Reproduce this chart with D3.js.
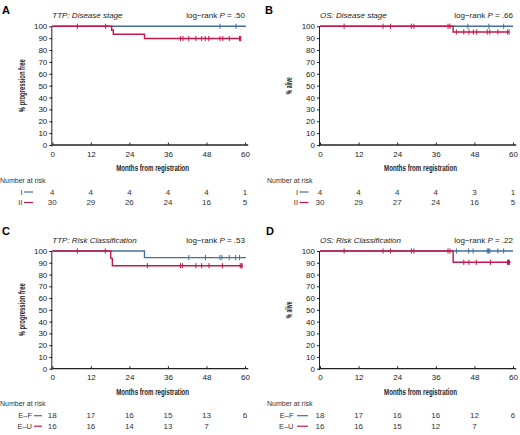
<!DOCTYPE html>
<html><head><meta charset="utf-8">
<script src="https://cdn.jsdelivr.net/npm/d3@7"></script>
<style>
body{margin:0;background:#fff;}
text{font-family:"Liberation Sans",Arial,sans-serif;}
.cond{font-family:"Liberation Sans Narrow","Arial Narrow","Liberation Sans",sans-serif;font-weight:bold;}
</style></head>
<body><svg id="c" width="520" height="435"></svg>
<script>
// ---------------- data ----------------
const xTicks = [0, 12, 24, 36, 48, 60];
const yTicks = [0, 10, 20, 30, 40, 50, 60, 70, 80, 90, 100];

// Panel A: TTP by disease stage
const A_I_steps = [[0,100],[60.3,100]];
const A_I_cens = [52.2, 57.2];
const A_II_steps = [[0,100],[18.5,96.7],[19.0,93.3],[28.7,89.7],[58.7,89.7]];
const A_II_cens = [7.8,16.6,39.9,40.7,42.5,44.7,46.5,47.6,48.7,52.2,53.1,55.1,58.3,58.5,58.7];
const A_I_risk = [4,4,4,4,4,1];
const A_II_risk = [30,29,26,24,16,5];

// Panel B: OS by disease stage
const B_I_steps = [[0,100],[60,100]];
const B_I_cens = [46.0,52.5,57.1];
const B_II_steps = [[0,100],[41.4,95.2],[58.8,95.2]];
const B_II_cens = [7.5,19.6,21.9,28.4,29.2,39.8,40.4,42.4,44.7,46.3,47.7,48.7,52.0,52.8,55.3,58.3,58.8];
const B_I_risk = [4,4,4,4,3,1];
const B_II_risk = [30,29,27,24,16,5];

// Panel C: TTP by risk classification
const C_EF_steps = [[0,100],[28.7,94.4],[60.3,94.4]];
const C_EF_cens = [42.5,47.7,52.2,52.8,55.1,57.1,58.3];
const C_EU_steps = [[0,100],[18.2,93.75],[18.7,87.5],[59.3,87.5]];
const C_EU_cens = [7.8,16.5,29.6,39.9,40.5,44.7,46.5,48.8,53.0,58.5,58.8,59.1];
const C_EF_risk = [18,17,16,15,13,6];
const C_EU_risk = [16,16,14,13,7,null];

// Panel D: OS by risk classification
const D_EF_steps = [[0,100],[60,100]];
const D_EF_cens = [42.4,46.2,47.6,52.0,52.4,52.8,55.3,57.1];
const D_EU_steps = [[0,100],[41.4,90.4],[59.2,90.4]];
const D_EU_cens = [7.5,19.6,21.9,28.4,29.2,39.8,40.4,44.7,46.3,48.6,53.0,58.3,58.6,58.9];
const D_EF_risk = [18,17,16,16,12,6];
const D_EU_risk = [16,16,15,12,7,null];

const groupNames1 = ["I", "II"];
const groupNames2 = ["E\u2013F", "E\u2013U"];
const blue = "#41709f", red = "#c2184b";

// ---------------- layout ----------------
const panels = [
  {letter:"A", lx:2, ly:14, x0:52.3, x60:245, yTop:26.3, yBot:145, title:"TTP: Disease stage", p:".50",
   ylab:"% progression free", ylen:53, ylx:25, groups:groupNames1,
   curves:[[A_I_steps,A_I_cens,blue],[A_II_steps,A_II_cens,red]], risk:[A_I_risk,A_II_risk],
   narX:0, legTextX:22.5, legLine:[24,33]},
  {letter:"B", lx:265, ly:14, x0:320, x60:513, yTop:26.3, yBot:145, title:"OS: Disease stage", p:".66",
   ylab:"% alive", ylen:17, ylx:292, groups:groupNames1,
   curves:[[B_I_steps,B_I_cens,blue],[B_II_steps,B_II_cens,red]], risk:[B_I_risk,B_II_risk],
   narX:267, legTextX:298, legLine:[299.5,308.5]},
  {letter:"C", lx:2, ly:235, x0:52.3, x60:245, yTop:251, yBot:368.7, title:"TTP: Risk Classification", p:".53",
   ylab:"% progression free", ylen:53, ylx:25, groups:groupNames2,
   curves:[[C_EF_steps,C_EF_cens,blue],[C_EU_steps,C_EU_cens,red]], risk:[C_EF_risk,C_EU_risk],
   narX:0, legTextX:32, legLine:[34,42]},
  {letter:"D", lx:266, ly:235, x0:320, x60:513, yTop:251, yBot:368.7, title:"OS: Risk Classification", p:".22",
   ylab:"% alive", ylen:17, ylx:292, groups:groupNames2,
   curves:[[D_EF_steps,D_EF_cens,blue],[D_EU_steps,D_EU_cens,red]], risk:[D_EF_risk,D_EU_risk],
   narX:267, legTextX:293.5, legLine:[297,308]}
];

const svg = d3.select("#c");

function survAt(steps, t){
  let v = steps[0][1];
  for (const s of steps){ if (s[0] <= t) v = s[1]; }
  return v;
}

panels.forEach(P => {
  const g = svg.append("g");
  const span = P.x60 - P.x0;
  const x = d3.scaleLinear().domain([0, 61]).range([P.x0, P.x0 + span * 61 / 60]);
  const y = d3.scaleLinear().domain([0, 100]).range([P.yBot, P.yTop]);

  g.append("text").attr("x", P.lx).attr("y", P.ly).text(P.letter)
    .style("font-size", "11px").style("font-weight", "bold");

  g.append("text").attr("x", P.x0).attr("y", P.yTop - 8).text(P.title)
    .style("font-size", "8px").style("font-style", "italic").attr("fill", "#222");
  const pt = g.append("text").attr("x", x(60)).attr("y", P.yTop - 8).attr("text-anchor", "end")
    .style("font-size", "8px").attr("fill", "#222");
  pt.append("tspan").text("log\u2212rank ");
  pt.append("tspan").text("P").style("font-style", "italic");
  pt.append("tspan").text(" = " + P.p);

  // y axis
  const ya = g.append("g").attr("transform", `translate(${P.x0},0)`)
    .call(d3.axisLeft(y).tickValues(yTicks).tickSize(3).tickPadding(2));
  ya.selectAll("text").style("font-size", "8px").attr("fill", "#222");
  ya.selectAll("line,path").attr("stroke", "#222");
  ya.select(".domain").attr("d", `M-0.5,${y(0)+1.5}V${y(100)}`).attr("stroke-width", 1);

  // x axis
  const xa = g.append("g").attr("transform", `translate(0,${P.yBot})`)
    .call(d3.axisBottom(x).tickValues(xTicks).tickSize(-2.5).tickPadding(6));
  xa.selectAll("text").style("font-size", "8px").attr("fill", "#222");
  xa.selectAll("line,path").attr("stroke", "#222");
  xa.select(".domain").attr("d", `M${P.x0},0H${x(61)}`).attr("stroke-width", 1.3);

  g.append("text").attr("class", "cond").attr("x", (P.x0 + P.x60) / 2 + 4).attr("y", P.yBot + 26)
    .attr("text-anchor", "middle").style("font-size", "9px").attr("fill", "#222")
    .attr("textLength", 73).attr("lengthAdjust", "spacingAndGlyphs")
    .text("Months from registration");

  g.append("text").attr("class", "cond")
    .attr("transform", `translate(${P.ylx},${(P.yTop + P.yBot) / 2}) rotate(-90)`)
    .attr("text-anchor", "middle").style("font-size", "9px").attr("fill", "#222")
    .attr("textLength", P.ylen).attr("lengthAdjust", "spacingAndGlyphs")
    .text(P.ylab);

  // curves
  const line = d3.line().x(d => x(d[0])).y(d => y(d[1])).curve(d3.curveStepAfter);
  P.curves.forEach(([steps, cens, col]) => {
    g.append("path").attr("d", line(steps)).attr("fill", "none")
      .attr("stroke", col).attr("stroke-width", 1.4);
    g.selectAll(null).data(cens).enter().append("line")
      .attr("x1", d => x(d)).attr("x2", d => x(d))
      .attr("y1", d => y(survAt(steps, d)) - 2.6).attr("y2", d => y(survAt(steps, d)) + 2.6)
      .attr("stroke", col).attr("stroke-width", 1);
  });

  // number at risk
  g.append("text").attr("x", P.narX).attr("y", P.yBot + 37.5).text("Number at risk")
    .style("font-size", "7px").attr("fill", "#333");
  const rowY = [P.yBot + 49.5, P.yBot + 60];
  const cols = [blue, red];
  P.risk.forEach((arr, i) => {
    g.append("text").attr("x", P.legTextX).attr("y", rowY[i]).attr("text-anchor", "end")
      .text(P.groups[i]).style("font-size", "7.5px").attr("fill", "#333");
    g.append("line").attr("x1", P.legLine[0]).attr("x2", P.legLine[1])
      .attr("y1", rowY[i] - 2.5).attr("y2", rowY[i] - 2.5)
      .attr("stroke", cols[i]).attr("stroke-width", 1.2);
    g.selectAll(null).data(arr.map((v, k) => [xTicks[k], v]).filter(d => d[1] !== null))
      .enter().append("text")
      .attr("x", d => x(d[0])).attr("y", rowY[i]).attr("text-anchor", "middle")
      .text(d => d[1]).style("font-size", "8px").attr("fill", "#333");
  });
});
</script>
</body></html>
